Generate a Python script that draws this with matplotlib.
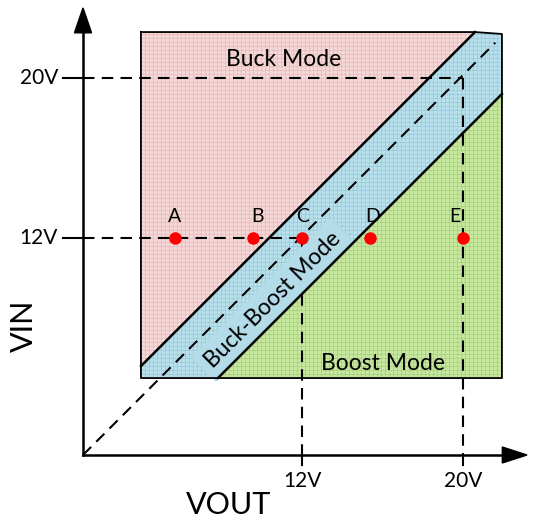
import matplotlib
matplotlib.use("Agg")
import matplotlib.pyplot as plt
import numpy as np
from matplotlib.patches import Polygon
from matplotlib.collections import LineCollection

plt.rcParams['font.family'] = ['Lato', 'DejaVu Sans']

# ---- diagram data (diagram units, origin at the axes crossing) ----
vout_tick_pos = [11.53, 20.0]
vin_tick_pos = [11.42, 19.84]
tick_labels = ['12V', '20V']

point_names = ['A', 'B', 'C', 'D', 'E']
point_vout = [4.84, 8.95, 11.53, 15.1, 20.0]
point_vin = [11.42, 11.42, 11.42, 11.42, 11.42]
label_dx = [0.0, 0.26, 0.0, 0.16, -0.45]

# operating window and mode band (VIN = VOUT + offset)
win_left, win_right, win_bottom, win_top = 3.05, 22.05, 4.05, 22.26
band_upper = 1.63
band_lower = -3.05

PX = 19.0  # pixels per diagram unit
W, H = 539, 519
ox, oy = 83, 455

fig = plt.figure(figsize=(W / 100, H / 100), dpi=100)
ax = fig.add_axes([0, 0, 1, 1])
ax.set_xlim(-ox / PX, (W - ox) / PX)
ax.set_ylim((oy - H) / PX, oy / PX)
ax.axis('off')

pink, pink_g = '#f4d9d8', '#ebbcbc'
blue, blue_g = '#bce0ea', '#93cee2'
green, green_g = '#c8e7a3', '#a6d674'

# polygons
x_up_top = win_top - band_upper
y_up_left = win_left + band_upper
x_lo_bot = win_bottom - band_lower
y_lo_right = win_right + band_lower
buck = [(win_left, win_top), (x_up_top, win_top), (win_left, y_up_left)]
bb = [(x_up_top, win_top), (win_right, win_top - 0.1), (win_right, y_lo_right),
      (x_lo_bot, win_bottom), (win_left, win_bottom), (win_left, y_up_left)]
boost = [(x_lo_bot, win_bottom), (win_right, win_bottom), (win_right, y_lo_right)]

step = 4.0 / PX
xs = np.arange(win_left, win_right + 1e-6, step)
ys = np.arange(win_bottom, win_top + 1e-6, step)
for poly, fc, gc in [(buck, pink, pink_g), (bb, blue, blue_g), (boost, green, green_g)]:
    p = Polygon(poly, closed=True, facecolor=fc, edgecolor='none', zorder=1)
    ax.add_patch(p)
    segs = [[(x, win_bottom), (x, win_top)] for x in xs] + \
           [[(win_left, y), (win_right, y)] for y in ys]
    lc = LineCollection(segs, colors=gc, linewidths=0.6, zorder=2)
    lc.set_clip_path(p)
    ax.add_collection(lc)

# dashed guide lines
ds = (0, (5.5, 3.5))
dlw = 1.5
ax.plot([0, 21.7], [0, 21.7], color='black', lw=dlw, ls=ds, zorder=3)
for xv, yv in zip(vout_tick_pos, vin_tick_pos):
    ax.plot([0, xv], [yv, yv], color='black', lw=dlw, ls=ds, zorder=3)
    ax.plot([xv, xv], [yv, 0], color='black', lw=dlw, ls=ds, zorder=3)
    ax.plot([-1.05, 0], [yv, yv], color='black', lw=dlw, zorder=3)
    ax.plot([xv, xv], [0, -0.55], color='black', lw=dlw, zorder=3)

# Buck-Boost label with box
ax.text(10.0, 8.16, 'Buck-Boost Mode', rotation=45, rotation_mode='anchor',
        ha='center', va='center', fontsize=16.5, color='black', zorder=5,
        bbox=dict(boxstyle='square,pad=0.3', fc='#b4dce8', ec='none'))

# boundaries
blw = 1.8
ax.plot([win_left, x_up_top], [y_up_left, win_top], color='black', lw=blw, zorder=6)
ax.plot([x_lo_bot, win_right], [win_bottom, y_lo_right], color='black', lw=blw, zorder=6)
ax.plot([win_left, x_up_top, win_right, win_right, win_left, win_left],
        [win_top, win_top, win_top - 0.1, win_bottom, win_bottom, win_top],
        color='black', lw=1.3, zorder=6)

# axes with arrows
alw = 1.8
ax.plot([0, 0], [0, 22.4], color='black', lw=alw, zorder=6)
ax.plot([0, 22.2], [0, 0], color='black', lw=alw, zorder=6)
ax.add_patch(Polygon([(0, 23.53), (-0.45, 22.22), (0.45, 22.22)], closed=True,
                     fc='black', ec='black', zorder=7))
ax.add_patch(Polygon([(23.37, 0), (22.07, 0.42), (22.07, -0.42)], closed=True,
                     fc='black', ec='black', zorder=7))

# points
ax.plot(point_vout, point_vin, 'o', color='#ff0000', ms=9, mec='none', zorder=8)
for n, x, y, dx in zip(point_names, point_vout, point_vin, label_dx):
    ax.text(x + dx, y + 1.15, n, ha='center', va='center', fontsize=14, zorder=8)

# region labels
ax.text(10.58, 20.79, 'Buck Mode', ha='center', va='center', fontsize=16.5, zorder=8)
ax.text(15.79, 4.84, 'Boost Mode', ha='center', va='center', fontsize=16.5, zorder=8)

# tick labels
for yv, lab in zip(vin_tick_pos, tick_labels):
    ax.text(-1.32, yv, lab, ha='right', va='center', fontsize=15, zorder=8)
for xv, lab in zip(vout_tick_pos, tick_labels):
    ax.text(xv, -1.37, lab, ha='center', va='center', fontsize=15, zorder=8)

# axis titles
ax.text(-3.1, 6.8, 'VIN', rotation=90, ha='center', va='center', fontsize=22)
ax.text(7.68, -2.63, 'VOUT', ha='center', va='center', fontsize=22)

fig.savefig('out.png', dpi=100)
